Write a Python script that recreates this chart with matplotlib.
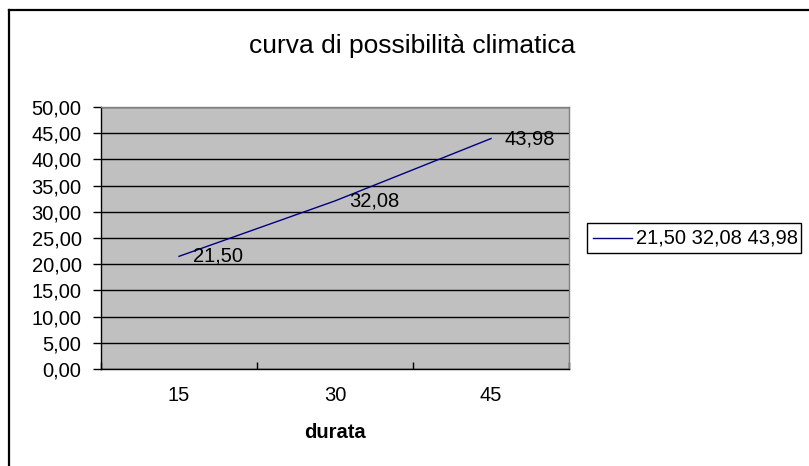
import matplotlib
matplotlib.use("Agg")
import matplotlib.pyplot as plt
from matplotlib.lines import Line2D
from matplotlib.patches import Rectangle

# Rainfall depth for each duration
durations = ["15", "30", "45"]
values = [21.50, 32.08, 43.98]
value_labels = ["21,50", "32,08", "43,98"]
y_ticks = [0, 5, 10, 15, 20, 25, 30, 35, 40, 45, 50]
y_tick_labels = ["0,00", "5,00", "10,00", "15,00", "20,00", "25,00",
                 "30,00", "35,00", "40,00", "45,00", "50,00"]
series_name = "21,50 32,08 43,98"
title = "curva di possibilità climatica"
x_title = "durata"

W, H = 809, 466
plt.rcParams["font.family"] = ["Liberation Sans", "DejaVu Sans"]
fig = plt.figure(figsize=(W / 100, H / 100), dpi=100)
fig.patch.set_facecolor("white")

def fx(px):
    return px / W

def fy(py):
    return 1 - py / H

# chart frame (top and left edges)
fig.add_artist(Line2D([fx(8.5), fx(8.5)], [fy(9.5), fy(H)], color="black", lw=1.6))
fig.add_artist(Line2D([fx(8.5), 1], [fy(9.5), fy(9.5)], color="black", lw=1.6))

left, right, top, bottom = 101, 569, 107, 369
ax = fig.add_axes([fx(left), fy(bottom), fx(right - left), (bottom - top) / H])
ax.set_facecolor("#c0c0c0")

x = list(range(len(durations)))
ax.plot(x, values, color="#000080", lw=1.0, zorder=3)
for xi, v, lab in zip(x, values, value_labels):
    ax.annotate(lab, (xi, v), xytext=(10, 0), textcoords="offset points",
                ha="left", va="center", fontsize=14.5, color="black", zorder=4)

ax.set_xlim(-0.5, len(durations) - 0.5)
ax.set_ylim(0, 50)
ax.set_yticks(y_ticks)
ax.set_yticklabels(y_tick_labels, fontsize=14.5)
ax.set_xticks([i - 0.5 for i in range(len(durations) + 1)])
ax.set_xticklabels([])
ax.set_xticks(x, minor=True)
ax.set_xticklabels(durations, minor=True, fontsize=14.5)
ax.tick_params(axis="x", which="major", length=5, direction="in", width=1)
ax.tick_params(axis="x", which="minor", length=0, pad=12)
ax.tick_params(axis="y", length=6, direction="out", width=1, pad=8)
ax.grid(axis="y", color="black", lw=1.0, zorder=1)
ax.set_axisbelow(True)

for side in ["left", "bottom"]:
    ax.spines[side].set_color("black")
    ax.spines[side].set_linewidth(1.0)
for side in ["top", "right"]:
    ax.spines[side].set_color("#808080")
    ax.spines[side].set_linewidth(1.0)

fig.text(fx(335), fy(432), x_title, ha="center", va="center",
         fontsize=14.5, fontweight="bold")
fig.text(fx(412), fy(46), title, ha="center", va="center", fontsize=19)

# legend box
fig.add_artist(Rectangle((fx(587), fy(253)), fx(801 - 587), (253 - 223) / H,
                         transform=fig.transFigure, facecolor="white",
                         edgecolor="black", lw=1.0))
fig.add_artist(Line2D([fx(593), fx(632)], [fy(238), fy(238)], color="#000080", lw=1.0))
fig.text(fx(636), fy(238), series_name, ha="left", va="center", fontsize=14.5)

fig.savefig("out.png", dpi=100)
